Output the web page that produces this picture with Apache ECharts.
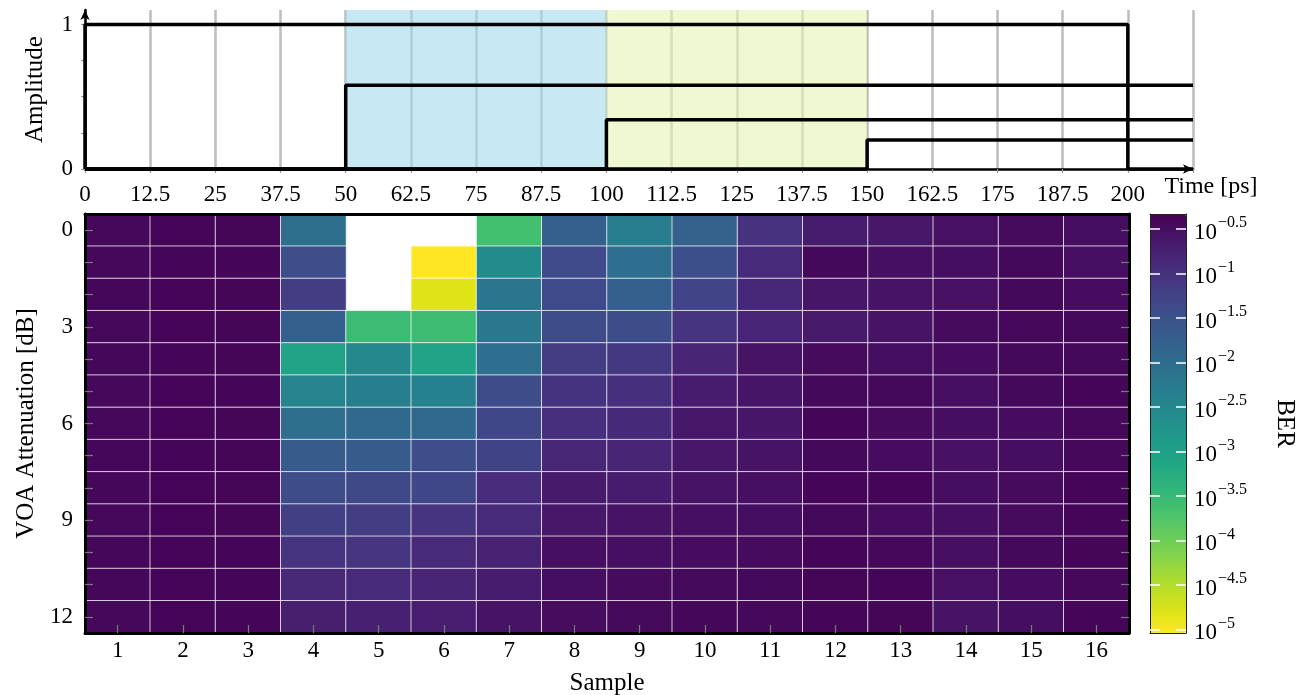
<!DOCTYPE html>
<html>
<head>
<meta charset="utf-8">
<script src="https://cdn.jsdelivr.net/npm/echarts@6/dist/echarts.min.js"></script>
<style>html,body{margin:0;padding:0;background:#fff}#c{width:1309px;height:695px}</style>
</head>
<body>
<div id="c"></div>
<script>
// ---- top panel: amplitude steps (time [ps], amplitude) ----
const pulse1 = [[0,0],[0,1],[200,1],[200,0],[212.5,0]];
const pulse2 = [[0,0],[50,0],[50,0.58],[212.5,0.58]];
const pulse3 = [[0,0],[100,0],[100,0.34],[212.5,0.34]];
const pulse4 = [[0,0],[150,0],[150,0.2],[212.5,0.2]];
const shadeBlue = [50, 100];
const shadeGreen = [100, 150];
const timeMax = 212.5;
const timeStep = 12.5;
const ampTicks = [0, 0.25, 0.5, 0.75, 1];
const ampLabels = [0, 1];

// ---- bottom panel: log10(BER) per sample, rows = VOA attenuation 0..12 dB ----
const samples = ['1','2','3','4','5','6','7','8','9','10','11','12','13','14','15','16'];
const attenuation = ['0','1','2','3','4','5','6','7','8','9','10','11','12'];
const s1  = [-0.42,-0.42,-0.41,-0.42,-0.41,-0.42,-0.42,-0.41,-0.41,-0.42,-0.41,-0.41,-0.42];
const s2  = [-0.37,-0.38,-0.37,-0.37,-0.38,-0.37,-0.37,-0.38,-0.37,-0.37,-0.37,-0.37,-0.37];
const s3  = [-0.39,-0.40,-0.39,-0.39,-0.39,-0.40,-0.39,-0.39,-0.39,-0.39,-0.38,-0.38,-0.38];
const s4  = [-2.03,-1.44,-1.18,-1.75,-3.06,-2.44,-2.03,-1.68,-1.40,-1.20,-1.03,-0.87,-0.72];
const s5  = [null,null,null,-3.54,-2.53,-2.36,-1.90,-1.68,-1.36,-1.18,-1.05,-0.89,-0.75];
const s6  = [null,-5.04,-4.82,-3.56,-3.06,-2.40,-1.90,-1.44,-1.33,-1.04,-0.89,-0.81,-0.71];
const s7  = [-3.62,-2.60,-2.18,-2.20,-2.01,-1.43,-1.33,-1.26,-0.93,-0.91,-0.79,-0.68,-0.57];
const s8  = [-1.75,-1.38,-1.38,-1.41,-1.18,-1.02,-0.97,-0.85,-0.66,-0.62,-0.51,-0.50,-0.47];
const s9  = [-2.32,-2.02,-1.74,-1.43,-1.10,-0.98,-0.88,-0.81,-0.68,-0.57,-0.51,-0.46,-0.45];
const s10 = [-1.79,-1.45,-1.27,-1.03,-0.81,-0.68,-0.62,-0.62,-0.56,-0.51,-0.48,-0.45,-0.41];
const s11 = [-1.00,-0.90,-0.86,-0.82,-0.57,-0.60,-0.61,-0.57,-0.51,-0.50,-0.46,-0.44,-0.42];
const s12 = [-0.68,-0.44,-0.61,-0.66,-0.46,-0.44,-0.38,-0.44,-0.40,-0.44,-0.38,-0.39,-0.40];
const s13 = [-0.63,-0.51,-0.57,-0.57,-0.50,-0.44,-0.46,-0.48,-0.38,-0.48,-0.42,-0.40,-0.39];
const s14 = [-0.53,-0.50,-0.53,-0.46,-0.48,-0.51,-0.50,-0.55,-0.50,-0.51,-0.51,-0.53,-0.57];
const s15 = [-0.46,-0.44,-0.44,-0.42,-0.44,-0.44,-0.48,-0.50,-0.46,-0.46,-0.44,-0.48,-0.50];
const s16 = [-0.50,-0.51,-0.48,-0.44,-0.44,-0.40,-0.42,-0.42,-0.40,-0.40,-0.39,-0.42,-0.38];
const sampleCols = [s1,s2,s3,s4,s5,s6,s7,s8,s9,s10,s11,s12,s13,s14,s15,s16];

// ---- colour bar ----
const berMin = -5.04;
const berMax = -0.33;
const berTicks = [-5,-4.5,-4,-3.5,-3,-2.5,-2,-1.5,-1,-0.5];
const viridisRev = ['#fde725','#dfe318','#bddf26','#9bd93c','#7ad151','#5ec962','#44bf70','#2fb47c','#22a884','#1e9c89','#21918c','#25848e','#2a788e','#2f6c8e','#355f8d','#3b528b','#414487','#463480','#482475','#471365','#440154'];

const FONT = 'Liberation Serif';
const TICK = 23;
const NAME = 25;
const heatData = [];
sampleCols.forEach((col, i) => col.forEach((v, r) => { if (v !== null) heatData.push([i, r, v]); }));

const chart = echarts.init(document.getElementById('c'), null, {renderer: 'canvas'});
const txt = {fontFamily: FONT, color: '#000', fontSize: TICK};
const nameTxt = {fontFamily: FONT, color: '#000', fontSize: NAME};
const lineSeries = (d) => ({
  type: 'line', data: d, xAxisIndex: 0, yAxisIndex: 0, showSymbol: false, symbol: 'none',
  lineStyle: {color: '#000', width: 3.5}, z: 5, silent: true, clip: false
});

chart.setOption({
  animation: false,
  backgroundColor: '#fff',
  textStyle: {fontFamily: FONT},
  grid: [
    {left: 85, top: 10, width: 1108, height: 159, outerBoundsMode: 'none', containLabel: false},
    {left: 85, top: 214, width: 1044, height: 419, outerBoundsMode: 'none', containLabel: false},
    {left: 1150, top: 214, width: 36, height: 419, outerBoundsMode: 'none', containLabel: false}
  ],
  xAxis: [
    {
      type: 'value', gridIndex: 0, min: 0, max: timeMax, interval: timeStep,
      axisLine: {lineStyle: {color: '#000', width: 2.5}, symbol: ['none', 'arrow'], symbolSize: [7, 10]},
      axisTick: {show: true, length: 4, lineStyle: {color: '#999', width: 1.2}},
      splitLine: {show: true, lineStyle: {color: '#bdbdbd', width: 2.5}},
      axisLabel: Object.assign({}, txt, {margin: 14, formatter: v => v >= timeMax ? '' : String(v), showMaxLabel: true}),
      name: 'Time [ps]', nameLocation: 'end', nameGap: 18,
      nameTextStyle: Object.assign({}, nameTxt, {fontSize: 24, align: 'center', verticalAlign: 'top', padding: [6, 0, 0, 0]})
    },
    {
      type: 'category', gridIndex: 1, data: samples, position: 'bottom', z: 10,
      axisLine: {lineStyle: {color: '#000', width: 3}},
      axisTick: {show: true, inside: true, alignWithLabel: true, length: 8, lineStyle: {color: '#777', width: 1.2}},
      axisLabel: Object.assign({}, txt, {margin: 6, interval: 0}),
      splitLine: {show: false},
      name: 'Sample', nameLocation: 'middle', nameGap: 38, nameTextStyle: nameTxt
    },
    {
      type: 'category', gridIndex: 1, data: samples, position: 'top', z: 10,
      axisLine: {lineStyle: {color: '#000', width: 3}},
      axisTick: {show: false}, axisLabel: {show: false}, splitLine: {show: false}
    },
    {
      type: 'category', gridIndex: 2, data: [''], position: 'bottom', z: 10,
      axisLine: {lineStyle: {color: '#222', width: 1}}, axisTick: {show: false}, axisLabel: {show: false}
    },
    {
      type: 'category', gridIndex: 2, data: [''], position: 'top', z: 10,
      axisLine: {lineStyle: {color: '#222', width: 1}}, axisTick: {show: false}, axisLabel: {show: false}
    }
  ],
  yAxis: [
    {
      type: 'value', gridIndex: 0, min: 0, max: 1.1,
      axisLine: {show: true, lineStyle: {color: '#000', width: 2.5}, symbol: ['none', 'arrow'], symbolSize: [7, 10]},
      axisTick: {show: true, length: 4, customValues: ampTicks, lineStyle: {color: '#999', width: 1.2}},
      axisLabel: Object.assign({}, txt, {margin: 12, customValues: ampLabels}),
      splitLine: {show: false},
      name: 'Amplitude', nameLocation: 'middle', nameGap: 37, nameTextStyle: nameTxt
    },
    {
      type: 'category', gridIndex: 1, data: attenuation, inverse: true, position: 'left', z: 10,
      axisLine: {lineStyle: {color: '#000', width: 3}},
      axisTick: {show: true, inside: true, alignWithLabel: true, interval: 0, length: 8, lineStyle: {color: '#777', width: 1.2}},
      axisLabel: Object.assign({}, txt, {margin: 12, interval: 2}),
      splitLine: {show: false},
      name: 'VOA Attenuation [dB]', nameLocation: 'middle', nameGap: 42, nameTextStyle: nameTxt
    },
    {
      type: 'category', gridIndex: 1, data: attenuation, inverse: true, position: 'right', z: 10,
      axisLine: {lineStyle: {color: '#000', width: 3}},
      axisTick: {show: true, inside: true, alignWithLabel: true, interval: 0, length: 8, lineStyle: {color: '#777', width: 1.2}},
      axisLabel: {show: false}, splitLine: {show: false}
    },
    {
      type: 'value', gridIndex: 2, min: berMin, max: berMax, position: 'left', z: 10,
      axisLine: {show: true, lineStyle: {color: '#222', width: 1}},
      axisTick: {show: true, inside: true, length: 10, customValues: berTicks, lineStyle: {color: '#fff', width: 1.5}},
      axisLabel: {show: false}, splitLine: {show: false}
    },
    {
      type: 'value', gridIndex: 2, min: berMin, max: berMax, position: 'right', z: 10,
      axisLine: {show: true, lineStyle: {color: '#222', width: 1}},
      axisTick: {show: true, inside: true, length: 10, customValues: berTicks, lineStyle: {color: '#fff', width: 1.5}},
      axisLabel: {
        show: true, margin: 8, customValues: berTicks,
        formatter: v => '{b|10}{s|\u2212' + String(Math.abs(v)) + '}',
        rich: {
          b: {fontFamily: FONT, fontSize: 23, color: '#000', lineHeight: 30, verticalAlign: 'bottom'},
          s: {fontFamily: FONT, fontSize: 16, color: '#000', lineHeight: 30, verticalAlign: 'top', padding: [1, 0, 0, 1]}
        }
      },
      splitLine: {show: false},
      name: 'BER', nameLocation: 'middle', nameRotate: -90, nameGap: 86,
      nameTextStyle: nameTxt
    }
  ],
  visualMap: {
    type: 'continuous', min: berMin, max: berMax, seriesIndex: 5, dimension: 2,
    left: 1150, top: 214, itemWidth: 36, itemHeight: 419, padding: 0,
    calculable: false, text: null, hoverLink: false,
    inRange: {color: viridisRev}
  },
  series: [
    {
      type: 'line', data: [], xAxisIndex: 0, yAxisIndex: 0, z: 1, silent: true,
      markArea: {
        silent: true,
        data: [
          [{xAxis: shadeBlue[0], itemStyle: {color: 'rgba(163,217,237,0.6)'}}, {xAxis: shadeBlue[1]}],
          [{xAxis: shadeGreen[0], itemStyle: {color: 'rgba(230,243,180,0.6)'}}, {xAxis: shadeGreen[1]}]
        ]
      }
    },
    lineSeries(pulse1),
    lineSeries(pulse2),
    lineSeries(pulse3),
    lineSeries(pulse4),
    {
      type: 'heatmap', xAxisIndex: 1, yAxisIndex: 1, data: heatData, silent: true,
      itemStyle: {borderColor: 'rgba(255,255,255,0.75)', borderWidth: 1},
      emphasis: {disabled: true}
    }
  ]
});
</script>
</body>
</html>
